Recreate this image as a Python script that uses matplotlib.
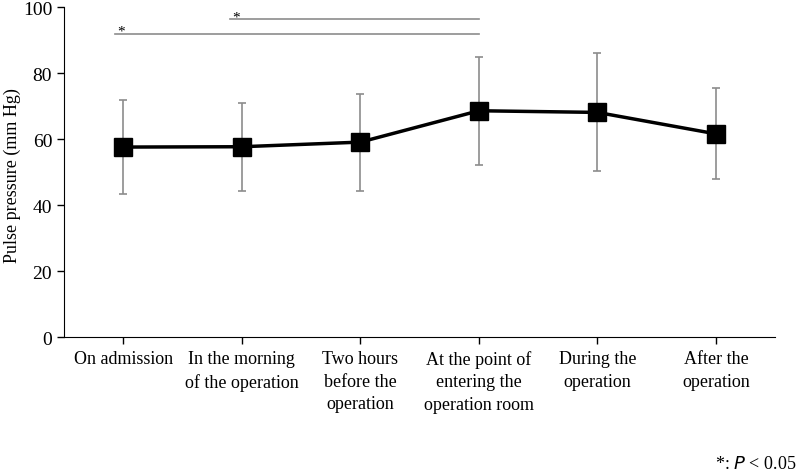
import matplotlib
matplotlib.use("Agg")
import matplotlib.pyplot as plt
import numpy as np

# Data
categories = ["On admission", "In the morning\nof the operation", "Two hours\nbefore the\noperation",
              "At the point of\nentering the\noperation room", "During the\noperation", "After the\noperation"]
mean_pp = [57.6, 57.7, 59.1, 68.6, 68.1, 61.6]
upper_pp = [71.8, 70.9, 73.8, 85.0, 86.1, 75.4]
lower_pp = [43.5, 44.4, 44.2, 52.1, 50.3, 47.9]

# significance brackets: (start, end, height)
sig_start = [0.9, -0.07]
sig_end = [3.0, 3.0]
sig_y = [96.3, 92.0]

plt.rcParams["font.family"] = ["Liberation Serif", "DejaVu Serif"]

x = np.arange(len(categories))
mean_pp = np.array(mean_pp)
yerr = [mean_pp - np.array(lower_pp), np.array(upper_pp) - mean_pp]

fig = plt.figure(figsize=(8, 4.77), dpi=100)
ax = fig.add_axes([0.08, 0.291, 0.889, 0.692])

ax.errorbar(x, mean_pp, yerr=yerr, fmt="none", ecolor="#8c8c8c", elinewidth=1.2,
            capsize=3, capthick=1.2, zorder=2)
ax.plot(x, mean_pp, color="black", linewidth=2.5, marker="s", markersize=13, zorder=3)

for s, e, h in zip(sig_start, sig_end, sig_y):
    ax.plot([s, e], [h, h], color="#8c8c8c", linewidth=1.2, zorder=1)
    ax.text(s + 0.05, h - 1.2, "*", fontsize=11, ha="center", va="bottom")

ax.set_xlim(-0.5, 5.5)
ax.set_ylim(0, 100)
ax.set_yticks([0, 20, 40, 60, 80, 100])
ax.set_xticks(x)
ax.set_xticklabels(categories, fontsize=13, linespacing=1.45)
ax.tick_params(axis="y", labelsize=14, direction="out", length=5, width=1)
ax.tick_params(axis="x", direction="out", length=5, width=1, pad=4)
ax.spines["top"].set_visible(False)
ax.spines["right"].set_visible(False)

fig.text(0.016, 0.631, "Pulse pressure (mm Hg)", rotation=90,
         ha="center", va="center", fontsize=13)

fig.text(0.996, 0.008, r"*: $\it{P}$ < 0.05", ha="right", va="bottom", fontsize=13)

fig.savefig("out.png", dpi=100, facecolor="white")
